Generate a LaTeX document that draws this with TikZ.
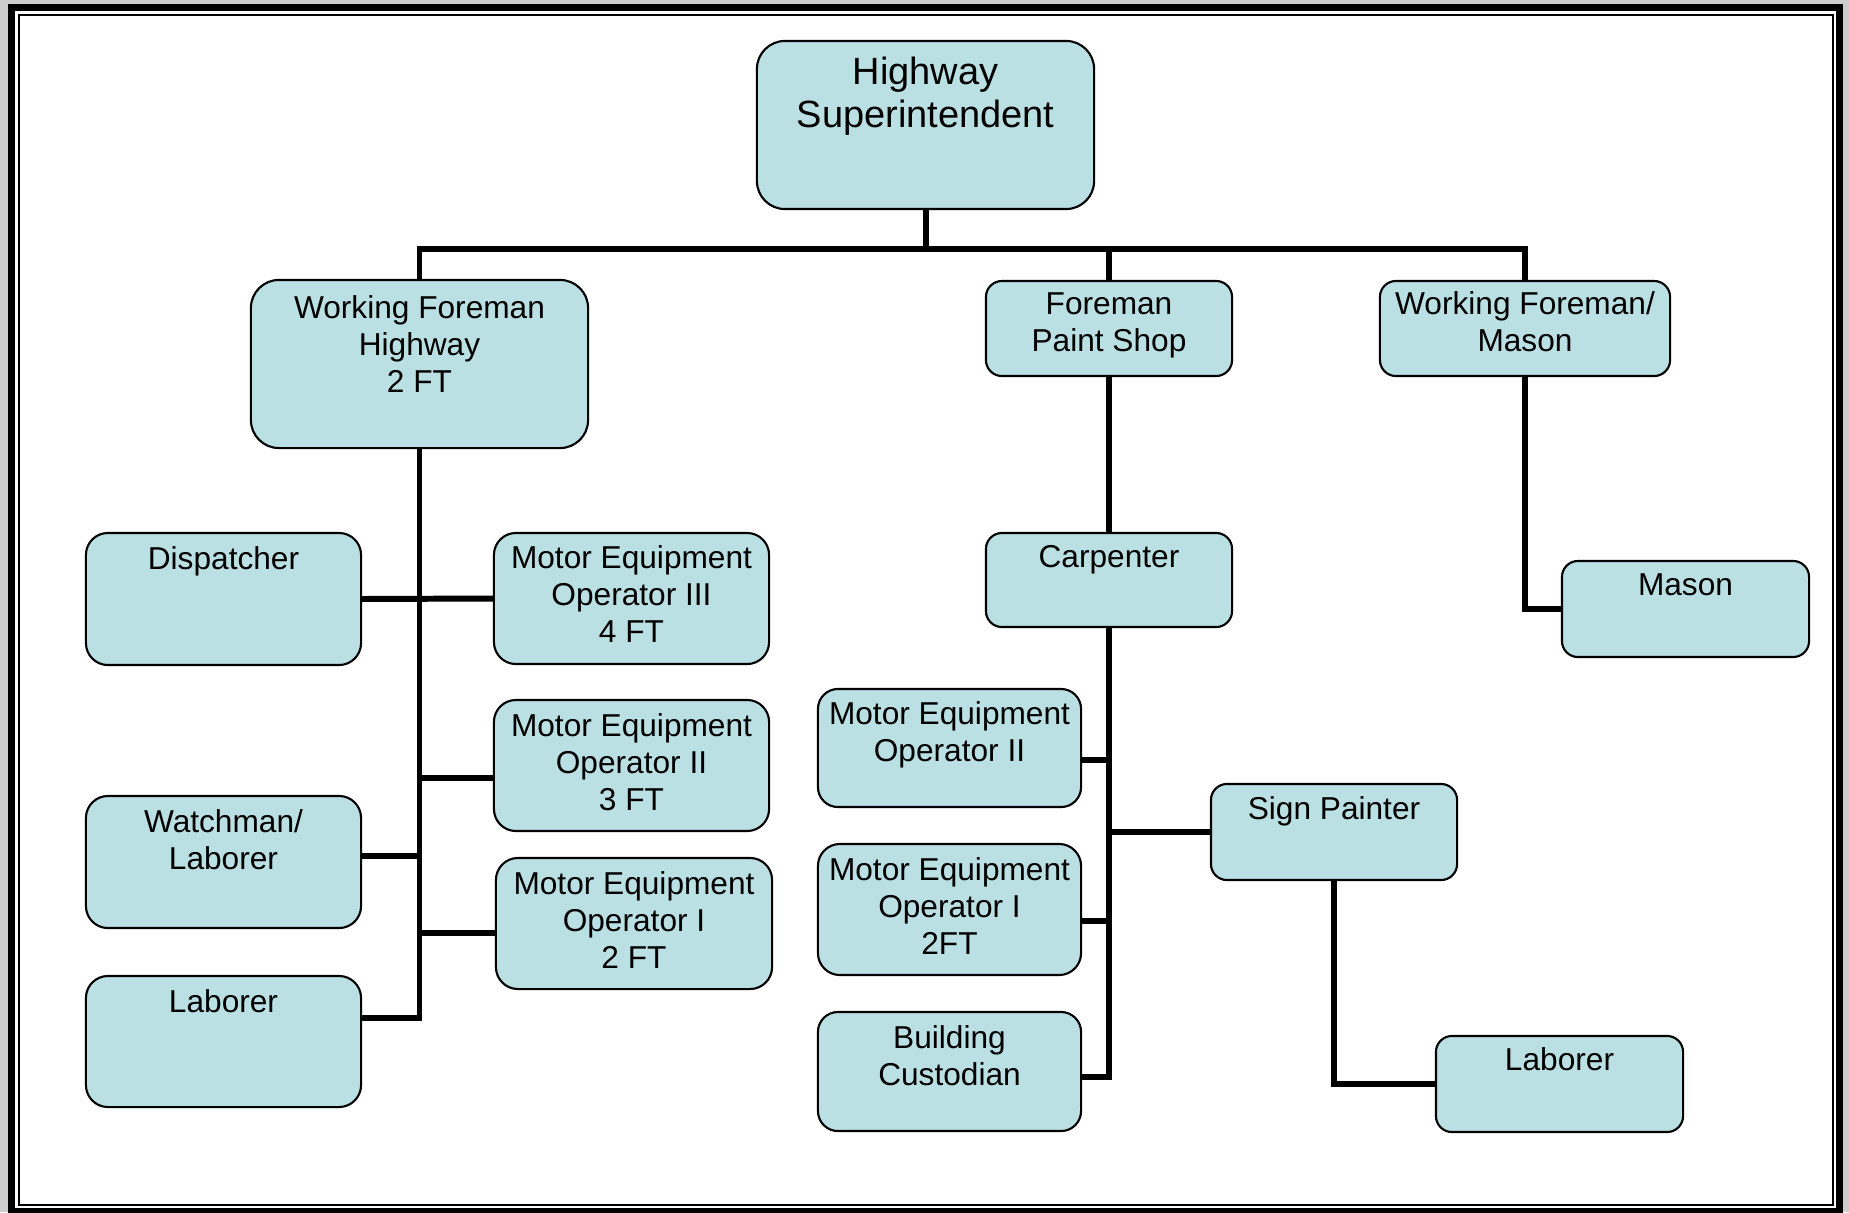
\documentclass[tikz,border=0pt]{standalone}
\usepackage{fontspec}
\setmainfont{Liberation Sans}
\definecolor{boxfill}{HTML}{BBE0E3}
\definecolor{pagegray}{HTML}{CDCDCD}

% caption inside a box: first baseline placed a fixed distance below the top edge
\newcommand\boxtext[3]{\node[lbl] (#1-t) at ([yshift=-#2]#1.north) {\rule{0pt}{0.78em}#3};}

\begin{document}
\begin{tikzpicture}[x=0.01cm, y=-0.01cm,
  box/.style={draw, fill=boxfill, line width=0.6pt, inner sep=0pt, rounded corners=#1},
  box/.default=0.22cm,
  lbl/.style={anchor=north, inner sep=0pt, align=center, font=\fontsize{9}{10.5}\selectfont},
  biglbl/.style={lbl, font=\fontsize{10.8}{12.1}\selectfont},
  conn/.style={line width=1.7pt, line join=miter}
]
\useasboundingbox (0,0) rectangle (1849,1212);

% page frame
\fill[pagegray] (0,0) rectangle (1849,1212);
\draw[line width=0.07cm, fill=white] (11.5,7.5) rectangle (1839.5,1211);
\draw[line width=0.02cm] (19,15) rectangle (1832.5,1205);

% boxes
\node[box=0.28cm, minimum width=3.37cm, minimum height=1.68cm] (top)   at (925.5,125) {};
\node[box=0.28cm, minimum width=3.37cm, minimum height=1.68cm] (wfh)   at (419.5,364) {};
\node[box=0.16cm, minimum width=2.46cm, minimum height=0.95cm] (fps)   at (1109,328.5) {};
\node[box=0.16cm, minimum width=2.90cm, minimum height=0.95cm] (wfm)   at (1525,328.5) {};

\node[box, minimum width=2.75cm, minimum height=1.32cm] (disp)  at (223.5,599) {};
\node[box, minimum width=2.75cm, minimum height=1.31cm] (meo3)  at (631.5,598.5) {};
\node[box, minimum width=2.75cm, minimum height=1.31cm] (meo2l) at (631.5,765.5) {};
\node[box, minimum width=2.75cm, minimum height=1.32cm] (watch) at (223.5,862) {};
\node[box, minimum width=2.76cm, minimum height=1.31cm] (meo1l) at (634,923.5) {};
\node[box, minimum width=2.75cm, minimum height=1.31cm] (labl)  at (223.5,1041.5) {};

\node[box=0.16cm, minimum width=2.46cm, minimum height=0.94cm] (carp)  at (1109,580) {};
\node[box=0.20cm, minimum width=2.63cm, minimum height=1.18cm] (meo2m) at (949.5,748) {};
\node[box=0.16cm, minimum width=2.46cm, minimum height=0.96cm] (sp)    at (1334,832) {};
\node[box,        minimum width=2.63cm, minimum height=1.31cm] (meo1m) at (949.5,909.5) {};
\node[box=0.20cm, minimum width=2.63cm, minimum height=1.19cm] (bc)    at (949.5,1071.5) {};
\node[box=0.16cm, minimum width=2.47cm, minimum height=0.96cm] (labr)  at (1559.5,1084) {};
\node[box=0.16cm, minimum width=2.47cm, minimum height=0.96cm] (mason) at (1685.5,609) {};

% captions
\node[biglbl] (top-t) at ([yshift=-0.144cm]top.north) {\rule{0pt}{0.78em}Highway\\Superintendent};
\boxtext{wfh}{0.144cm}{Working Foreman\\Highway\\2 FT}
\boxtext{fps}{0.094cm}{Foreman\\Paint Shop}
\boxtext{wfm}{0.094cm}{Working Foreman/\\Mason}
\boxtext{disp}{0.124cm}{Dispatcher}
\boxtext{meo3}{0.114cm}{Motor Equipment\\Operator III\\4 FT}
\boxtext{meo2l}{0.124cm}{Motor Equipment\\Operator II\\3 FT}
\boxtext{watch}{0.124cm}{Watchman/\\Laborer}
\boxtext{meo1l}{0.123cm}{Motor Equipment\\Operator I\\2 FT}
\boxtext{labl}{0.123cm}{Laborer}
\boxtext{carp}{0.10cm}{Carpenter}
\boxtext{meo2m}{0.111cm}{Motor Equipment\\Operator II}
\boxtext{sp}{0.112cm}{Sign Painter}
\boxtext{meo1m}{0.124cm}{Motor Equipment\\Operator I\\2FT}
\boxtext{bc}{0.123cm}{Building\\Custodian}
\boxtext{labr}{0.10cm}{Laborer}
\boxtext{mason}{0.10cm}{Mason}

% top level bus
\coordinate (busy) at (0,249);
\draw[conn] (top.south) -- (top.south |- busy);
\draw[conn] (wfh.north) -- (wfh.north |- busy) -- (wfm.north |- busy) -- (wfm.north);
\draw[conn] (fps.north) -- (fps.north |- busy);

% highway crew
\draw[conn] (wfh.south) -- (wfh.south |- 0,1018) -- (labl.east |- 0,1018);
\draw[conn] (disp.east) -- (meo3.west);
\draw[conn] (wfh.south |- 0,778) -- (meo2l.west |- 0,778);
\draw[conn] (watch.east |- 0,856) -- (wfh.south |- 0,856);
\draw[conn] (wfh.south |- 0,933) -- (meo1l.west |- 0,933);

% paint shop crew
\draw[conn] (fps.south) -- (carp.north);
\draw[conn] (carp.south) -- (carp.south |- 0,1077) -- (bc.east |- 0,1077);
\draw[conn] (meo2m.east |- 0,760) -- (carp.south |- 0,760);
\draw[conn] (meo1m.east |- 0,921) -- (carp.south |- 0,921);
\draw[conn] (carp.south |- sp.west) -- (sp.west);
\draw[conn] (sp.south) |- (labr.west);

% masonry
\draw[conn] (wfm.south) |- (mason.west);
\end{tikzpicture}
\end{document}
